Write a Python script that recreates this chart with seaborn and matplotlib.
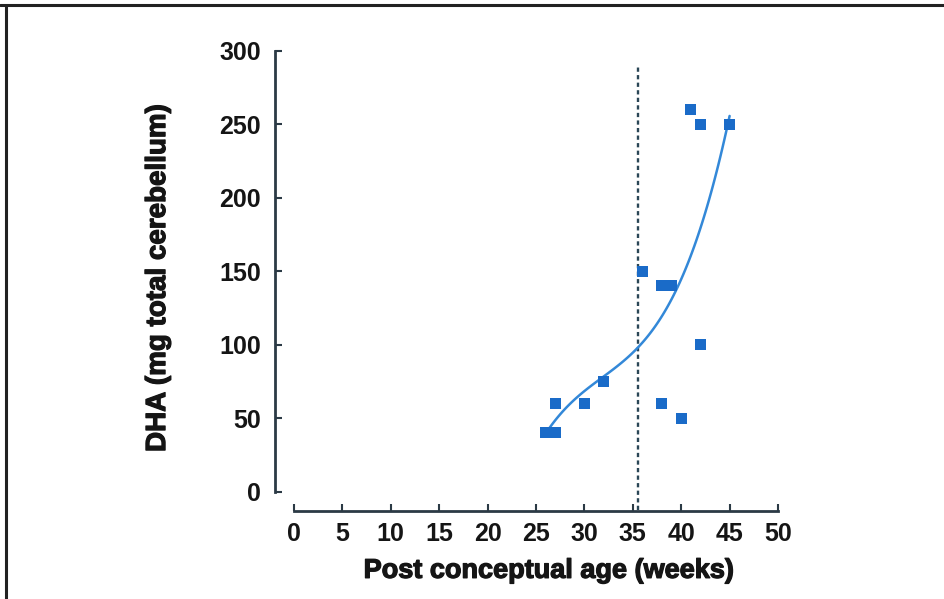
import pandas as pd
import matplotlib.pyplot as plt
import matplotlib.patheffects as pe
import seaborn as sns

# datos
edad = [26, 27, 27, 30, 32, 36, 38, 39, 38, 40, 42, 41, 42, 45]
dha = [40, 40, 60, 60, 75, 150, 140, 140, 60, 50, 100, 260, 250, 250]
corte = 35.5
xticks = [0, 5, 10, 15, 20, 25, 30, 35, 40, 45, 50]
yticks = [0, 50, 100, 150, 200, 250, 300]

df = pd.DataFrame({"edad": edad, "dha": dha})

sns.set_style("ticks")
plt.rcParams['font.family'] = ['Liberation Sans', 'DejaVu Sans']
plt.rcParams['font.weight'] = 'bold'

fig = plt.figure(figsize=(9.45, 5.99), dpi=100)
ax = fig.add_axes([294 / 945, 1 - 491.7 / 599, 484 / 945, 441 / 599])

sns.regplot(data=df, x="edad", y="dha", order=3, ci=None, truncate=True, ax=ax,
            marker="s",
            scatter_kws={"s": 62, "color": "#1a6bc8", "edgecolor": "none",
                         "alpha": 1, "clip_on": False, "zorder": 3},
            line_kws={"color": "#3388d8", "lw": 1.8, "zorder": 2})

ax.axvline(corte, ymin=-0.0415, ymax=0.968, color="#2a4656", lw=1.7,
           ls=(0, (1.8, 1.4)), clip_on=False, zorder=1)

ax.set_xlim(0, 50)
ax.set_ylim(0, 300)
ax.set_xticks(xticks)
ax.set_yticks(yticks)
ax.tick_params(direction="in", length=5, width=1.5, color="#2b3a45",
               labelsize=18, labelcolor="#151515")
ax.tick_params(axis="y", pad=10)
ax.tick_params(axis="x", pad=8)

grueso = [pe.withStroke(linewidth=0.9, foreground="#151515")]
for lab in ax.get_xticklabels() + ax.get_yticklabels():
    lab.set_fontweight("bold")
    lab.set_path_effects(grueso)

sns.despine(ax=ax, offset=14)
for s in ["left", "bottom"]:
    ax.spines[s].set_linewidth(2)
    ax.spines[s].set_color("#2b3a45")
ax.spines["bottom"].set_bounds(0, 50)
ax.spines["left"].set_bounds(0, 300)

ax.set_xlabel("Post conceptual age (weeks)", fontsize=19.5, fontweight="bold",
              color="#151515", path_effects=grueso)
ax.set_ylabel("DHA (mg total cerebellum)", fontsize=20, fontweight="bold",
              color="#151515", path_effects=grueso)
ax.xaxis.set_label_coords(0.526, -0.150)
ax.yaxis.set_label_coords(-0.254, 0.484)
ax.patch.set_alpha(0)

# marco de la imagen (solo arriba e izquierda)
fig.add_artist(plt.Line2D([0, 1], [1 - 4.5 / 599] * 2, color="#222222", lw=2.2,
                          transform=fig.transFigure))
fig.add_artist(plt.Line2D([6 / 945] * 2, [0, 1 - 4.5 / 599], color="#222222", lw=2.2,
                          transform=fig.transFigure))

fig.savefig("out.png", dpi=100, facecolor="white")
plt.close()
